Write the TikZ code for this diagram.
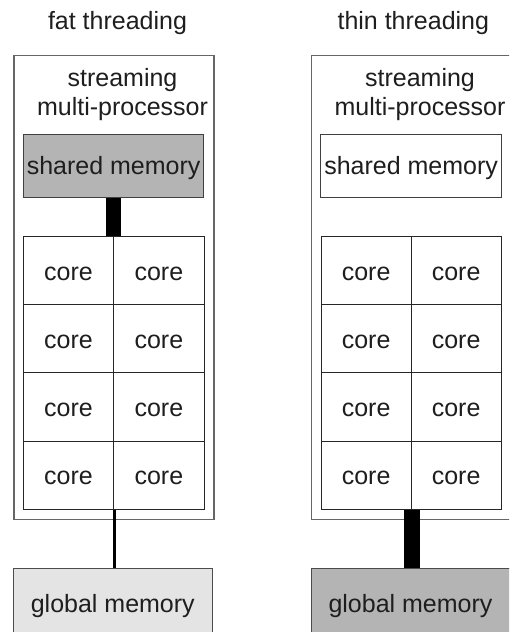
\documentclass[tikz,border=0pt]{standalone}
\usepackage{fontspec}
\setmainfont{Liberation Sans}
\definecolor{txt}{HTML}{1E1E1E}
\definecolor{darkfill}{HTML}{B4B4B4}
\definecolor{lightfill}{HTML}{E4E4E4}
\tikzset{
  every node/.style={font=\fontsize{25}{29}\selectfont, text=txt},
  outer/.style={draw=black!60, line width=1.3pt, fill=white, minimum width=200pt, minimum height=463.5pt, anchor=north west, inner sep=0pt},
  membox/.style={draw=black!75, line width=1pt, minimum width=180.5pt, minimum height=63pt, inner sep=0pt, text height=18.5pt, text depth=0pt},
  cell/.style={draw=black!85, line width=1pt, minimum width=90.3pt, minimum height=68.1pt, inner sep=0pt, text height=18.5pt, text depth=0pt},
  globbox/.style={draw=black!70, line width=1pt, minimum width=199pt, minimum height=71pt, inner sep=0pt, text height=18.5pt, text depth=0pt},
  title/.style={anchor=base, inner sep=0pt},
  widelink/.style={line width=15pt, draw=black},
  thinlink/.style={line width=3.2pt, draw=black},
}
\begin{document}
\begin{tikzpicture}[x=1pt,y=-1pt]
\useasboundingbox (0,0) rectangle (509,632);
\clip (0,0) rectangle (509,632);

% titles
\node[title] (t1) at (117.5,29) {fat threading};
\node[title] (t2) at (413.3,29) {thin threading};

% streaming multiprocessor boxes
\node[outer] (sm1) at (13.3,55) {};
\node[outer] (sm2) at (311,55) {};

\node[title] (s1a) at (122.5,86.7) {streaming};
\node[title] (s1b) at (122.5,115) {multi-processor};
\node[title] (s2a) at (420,86.7) {streaming};
\node[title] (s2b) at (420,115) {multi-processor};

% core grids
\foreach \r/\y in {1/270.75,2/338.85,3/406.95,4/475.05}{
  \node[cell] (a\r1) at (68.55,\y) {core};
  \node[cell] (a\r2) at (158.85,\y) {core};
  \node[cell] (b\r1) at (366.15,\y) {core};
  \node[cell] (b\r2) at (456.15,\y) {core};
}

% memories
\node[membox, fill=darkfill] (m1) at (113.65,165.5) {shared memory};
\node[membox, fill=white] (m2) at (411.1,165.5) {shared memory};
\node[globbox, fill=lightfill] (g1) at (112.8,603.5) {global memory};
\node[globbox, fill=darkfill] (g2) at (410.5,603.5) {global memory};

% connectors
\draw[widelink] (m1.south) -- (m1.south |- a11.north);
\draw[thinlink] (a41.south east) -- (a41.south east |- g1.north);
\draw[line width=16pt, draw=black] (b41.south east) -- (b41.south east |- g2.north);
\end{tikzpicture}
\end{document}
